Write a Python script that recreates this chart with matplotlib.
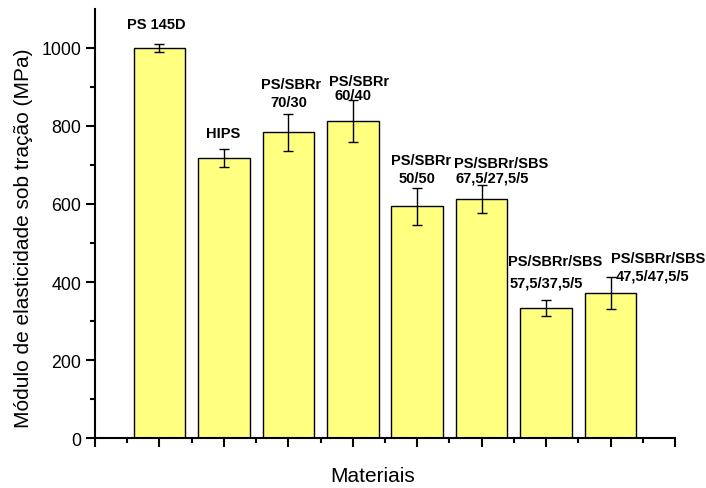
import numpy as np
import matplotlib.pyplot as plt

plt.rcParams['font.family'] = ['Liberation Sans', 'DejaVu Sans']

# modulo de elasticidade (MPa) e desvio padrao
materiais = ['PS 145D', 'HIPS', 'PS/SBRr 70/30', 'PS/SBRr 60/40', 'PS/SBRr 50/50',
             'PS/SBRr/SBS 67,5/27,5/5', 'PS/SBRr/SBS 57,5/37,5/5', 'PS/SBRr/SBS 47,5/47,5/5']
modulo = [1000, 718, 784, 812, 594, 613, 333, 371]
desvio = [10, 23, 47, 54, 48, 36, 21, 41]

# rotulos de cada barra: (linhas, x, y da linha de base)
rotulos = [
    (['PS 145D'], [0.95], [1052]),
    (['HIPS'], [1.99], [773]),
    (['PS/SBRr', '70/30'], [3.04, 3.0], [898, 850]),
    (['PS/SBRr', '60/40'], [4.10, 4.0], [906, 868]),
    (['PS/SBRr', '50/50'], [5.06, 5.0], [702, 656]),
    (['PS/SBRr/SBS', '67,5/27,5/5'], [6.30, 6.17], [696, 658]),
    (['PS/SBRr/SBS', '57,5/37,5/5'], [7.14, 7.0], [443, 389]),
    (['PS/SBRr/SBS', '47,5/47,5/5'], [8.74, 8.65], [451, 407]),
]

x = np.arange(1, len(modulo) + 1)

fig = plt.figure(figsize=(7.06, 4.89), dpi=100)
ax = fig.add_axes([0.1346, 0.1022, 0.8214, 0.8774])

ax.bar(x, modulo, width=0.8, color='#FFFF80', edgecolor='black', linewidth=1.0)
ax.errorbar(x, modulo, yerr=desvio, fmt='none', ecolor='black',
            elinewidth=1.0, capsize=3.5, capthick=1.0)

for linhas, xs, ys in rotulos:
    for t, xx, yy in zip(linhas, xs, ys):
        ax.text(xx, yy, t, ha='center', va='baseline', fontsize=10.5,
                fontweight='bold', clip_on=False)

ax.set_xlim(0, 9)
ax.set_ylim(0, 1100)
ax.set_xticks(np.arange(0, 10))
ax.set_xticks(np.arange(0.5, 9, 1), minor=True)
ax.set_xticklabels([])
ax.set_yticks(np.arange(0, 1001, 200))
ax.set_yticks(np.arange(100, 1001, 200), minor=True)

for s in ['top', 'right']:
    ax.spines[s].set_visible(False)
for s in ['left', 'bottom']:
    ax.spines[s].set_linewidth(1.5)

ax.tick_params(axis='both', which='major', direction='out', length=6.5, width=1.5,
               labelsize=12.8)
ax.tick_params(axis='both', which='minor', direction='out', length=3.6, width=1.5)

ax.set_xlabel('Materiais', fontsize=15)
ax.xaxis.set_label_coords(0.478, -0.065)
ax.set_ylabel('Módulo de elasticidade sob tração (MPa)', fontsize=15)
ax.yaxis.set_label_coords(-0.107, 0.469)

fig.savefig('out.png', dpi=100)
